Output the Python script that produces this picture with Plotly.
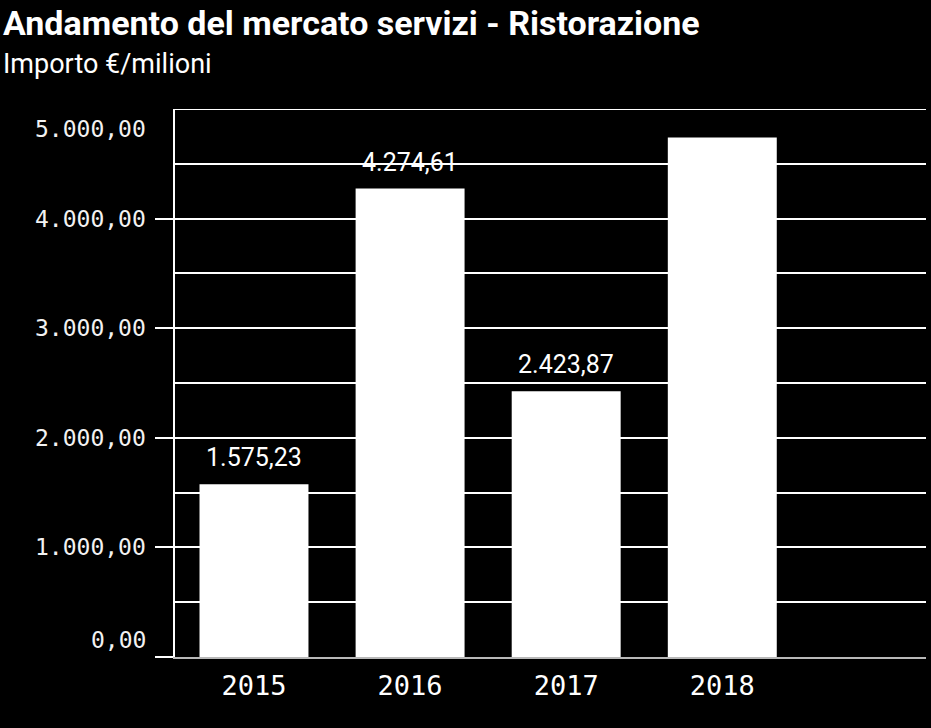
import plotly.graph_objects as go

# ---- data ----
years = ["2015", "2016", "2017", "2018"]
values = [1575.23, 4274.61, 2423.87, 4740.0]
show_value_label = [True, True, True, False]
y_label_values = [0, 1000, 2000, 3000, 4000, 5000]


def it_fmt(v, dec=2):
    s = f"{v:,.{dec}f}"
    return s.replace(",", "X").replace(".", ",").replace("X", ".")


fig = go.Figure()
fig.add_trace(go.Bar(
    x=years, y=values, width=0.698,
    marker=dict(color="white", line=dict(width=0)),
    hoverinfo="skip", showlegend=False,
))

annotations = []
# title and subtitle
annotations.append(dict(text="<b>Andamento del mercato servizi - Ristorazione</b>",
                        xref="paper", yref="paper", x=0, y=1, xanchor="left", yanchor="middle",
                        xshift=-174, yshift=86, showarrow=False,
                        font=dict(family="Roboto", size=34, color="white")))
annotations.append(dict(text="Importo €/milioni",
                        xref="paper", yref="paper", x=0, y=1, xanchor="left", yanchor="middle",
                        xshift=-174, yshift=45, showarrow=False,
                        font=dict(family="Roboto", size=27, color="white")))
# y tick labels (flush at the ends)
for v in y_label_values:
    shift = 0
    if v == y_label_values[0]:
        shift = 17
    elif v == y_label_values[-1]:
        shift = -20
    annotations.append(dict(text=it_fmt(v), xref="paper", yref="y", x=0, y=v,
                            xanchor="right", yanchor="middle", xshift=-27, yshift=shift,
                            showarrow=False,
                            font=dict(family="DejaVu Sans Mono", size=23, color="#f2f2f2")))
# value labels
for i, (v, show) in enumerate(zip(values, show_value_label)):
    if show:
        annotations.append(dict(text=it_fmt(v), x=i, y=v, xref="x", yref="y",
                                xanchor="center", yanchor="bottom", yshift=10,
                                showarrow=False,
                                font=dict(family="Roboto", size=25, color="white")))

fig.update_layout(
    width=931, height=728,
    paper_bgcolor="black", plot_bgcolor="black",
    margin=dict(l=175, r=5, t=109, b=71),
    annotations=annotations,
    xaxis=dict(type="category", range=[-0.506, 4.305], showgrid=False, zeroline=False,
               showline=True, linecolor="#b8b8b8", linewidth=2,
               ticks="outside", ticklen=0, ticklabelstandoff=4,
               tickfont=dict(family="DejaVu Sans Mono", size=27, color="white")),
    yaxis=dict(range=[0, 5000], tickvals=[0, 1000, 2000, 3000, 4000],
               showticklabels=False, ticks="outside", ticklen=18, tickwidth=2,
               tickcolor="white", showgrid=True, gridcolor="white", gridwidth=2,
               minor=dict(dtick=500, tick0=0, showgrid=True, gridcolor="white", gridwidth=2),
               zeroline=False, showline=True, linecolor="white", linewidth=2),
    shapes=[dict(type="line", xref="paper", yref="y", x0=0, x1=1, y0=5000, y1=5000,
                 line=dict(color="white", width=2), layer="below")],
)

fig.write_html(
    "out.html",
    config={"displayModeBar": False},
    post_script="document.body.style.margin='0';document.body.style.background='black';"
                "document.documentElement.style.background='black';",
)
